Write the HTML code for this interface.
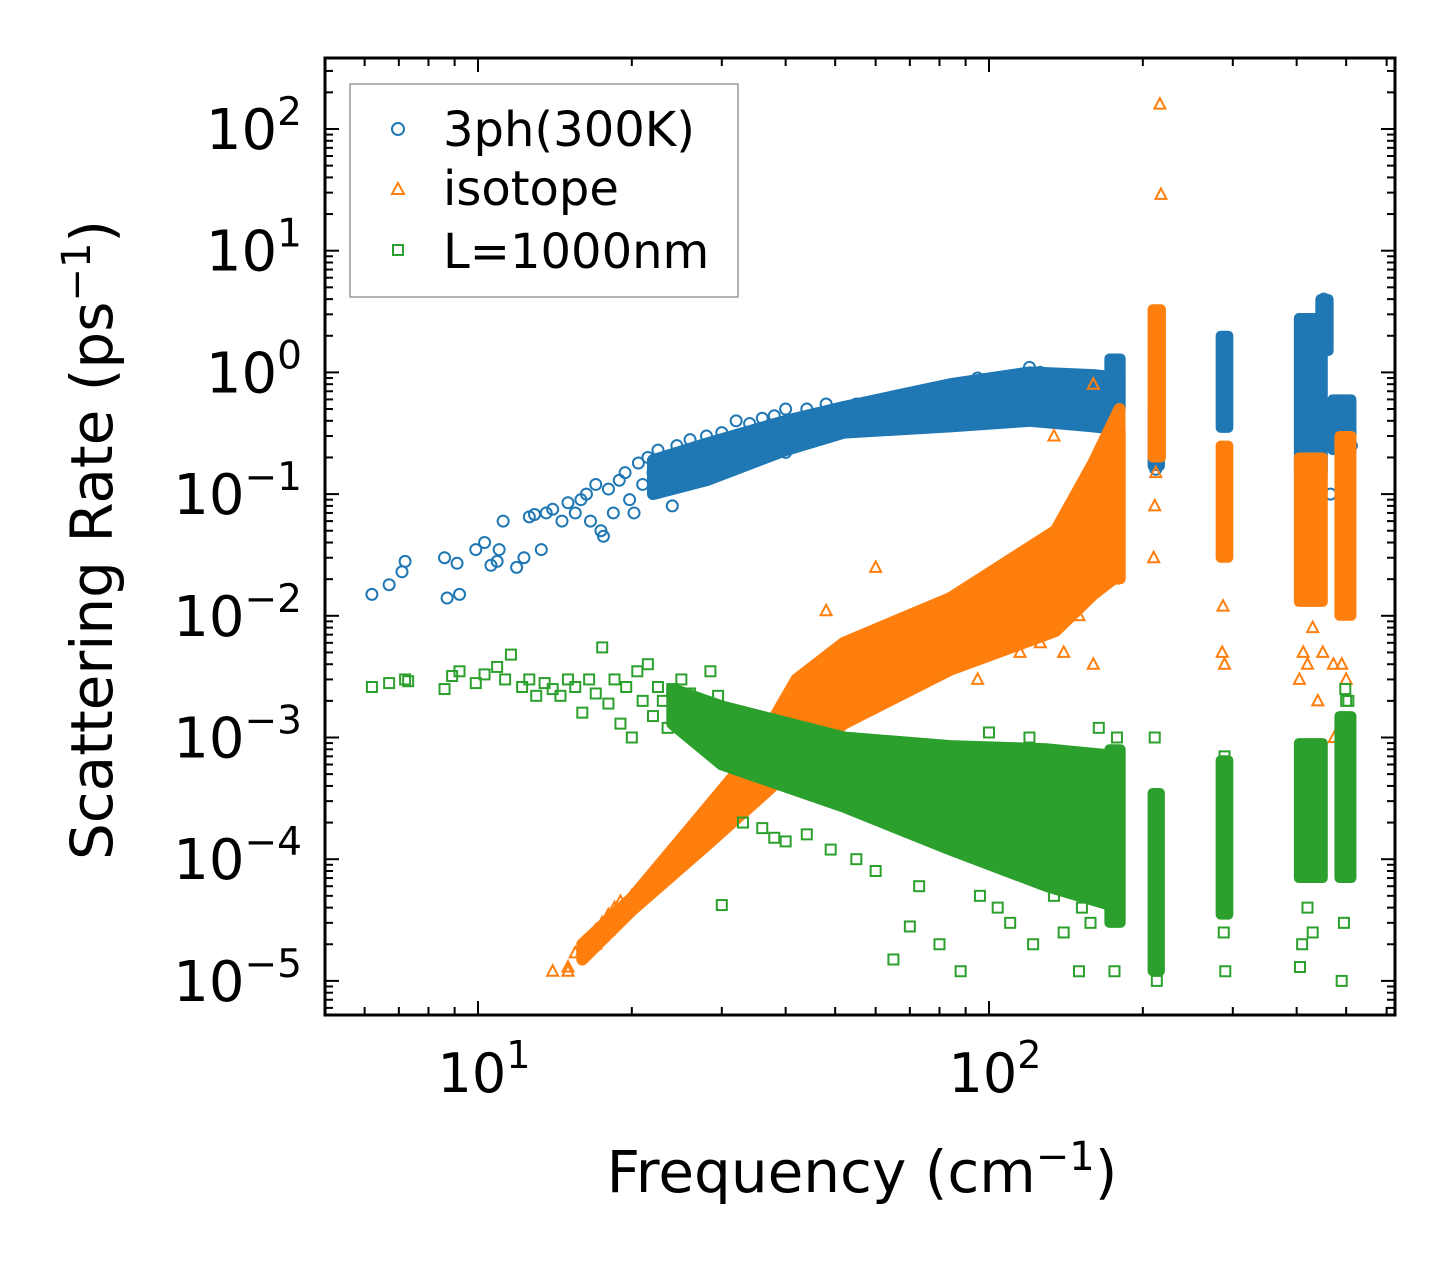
<!DOCTYPE html>
<html><head><meta charset="utf-8">
<style>
html,body{margin:0;padding:0;background:#fff;}
svg text{font-family:"DejaVu Sans","Liberation Sans",sans-serif;fill:#000;}
</style></head>
<body>
<svg id="chart" width="1455" height="1265" viewBox="0 0 1455 1265" xmlns="http://www.w3.org/2000/svg">
<rect width="1455" height="1265" fill="#fff"/>
<g id="marks"></g>
<g id="axes"></g>
<g id="legend">
  <rect x="350" y="84" width="388" height="213" fill="#fff" stroke="#999" stroke-width="1.5"/>
  <circle cx="398" cy="129" r="6" fill="none" stroke="#1f77b4" stroke-width="2"/>
  <text x="443" y="146" font-size="48">3ph(300K)</text>
  <path d="M398,183 L404,194 L392,194 Z" fill="none" stroke="#ff7f0e" stroke-width="2"/>
  <text x="443" y="205" font-size="48">isotope</text>
  <rect x="393" y="245" width="10" height="10" fill="none" stroke="#2ca02c" stroke-width="2"/>
  <text x="443" y="268" font-size="48">L=1000nm</text>
</g>
<text x="862" y="1192" font-size="58" text-anchor="middle">Frequency (cm<tspan dy="-22" font-size="40">−1</tspan><tspan dy="22">)</tspan></text>
<text transform="translate(112,540) rotate(-90)" font-size="58" text-anchor="middle">Scattering Rate (ps<tspan dy="-22" font-size="40">−1</tspan><tspan dy="22">)</tspan></text>
</svg>
<script>
// ---- data (frequency cm^-1, scattering rate ps^-1) ----
const xTickLabels=["1","2"];
const yTickExps=[2,1,0,-1,-2,-3,-4,-5];
// dense cores (overlapping markers): frequency, lower and upper rate of each cloud
const ph3BandFreq=[22,28,40,52,84,120,160,180];
const ph3BandLow=[0.1,0.13,0.23,0.32,0.36,0.4,0.36,0.34];
const ph3BandHigh=[0.19,0.26,0.4,0.52,0.8,1.0,0.95,0.9];
const isoBandFreq=[16,20,28,35,42,52,84,135,160,180];
const isoBandLow=[1.5e-5,3.8e-5,1.3e-4,3e-4,6e-4,1.3e-3,3.6e-3,7.5e-3,1.5e-2,2.2e-2];
const isoBandHigh=[2e-5,4.8e-5,2.6e-4,8e-4,3e-3,6e-3,1.4e-2,5e-2,0.18,0.5];
const bndBandFreq=[24,30,52,84,130,180];
const bndBandLow=[1.3e-3,6e-4,2.7e-4,1.2e-4,6e-5,4e-5];
const bndBandHigh=[2.5e-3,1.8e-3,1e-3,8.5e-4,8e-4,7e-4];
// narrow vertical clusters: [freqLeft, freqRight, low, high]
const ph3Clusters=[[172,181,0.5,1.3],[209,216,0.17,0.5],[284,294,0.35,2.0],[404,450,0.15,2.8],[445,462,1.5,4.0],[470,512,0.23,0.6]];
const isoClusters=[[172,181,0.02,0.35],[209,217,0.2,3.3],[284,294,0.03,0.25],[404,450,0.013,0.2],[485,512,0.01,0.3]];
const bndClusters=[[172,181,3e-5,8e-4],[209,216,1.2e-5,3.5e-4],[284,294,3.5e-5,6.5e-4],[404,450,7e-5,9e-4],[485,512,7e-5,1.5e-3]];
const ph3=[[6.2,0.015],[6.7,0.018],[7.1,0.023],[7.2,0.028],[8.6,0.03],[8.7,0.014],[9.1,0.027],[9.2,0.015],[9.9,0.035],[10.3,0.04],[10.6,0.026],[10.9,0.028],[11,0.035],[11.2,0.06],[11.9,0.025],[12.3,0.03],[12.6,0.065],[12.9,0.068],[13.3,0.035],[13.6,0.07],[14,0.075],[14.6,0.06],[15,0.085],[15.5,0.07],[15.9,0.09],[16.3,0.1],[16.6,0.06],[17,0.12],[17.4,0.05],[17.6,0.045],[18,0.11],[18.4,0.07],[18.9,0.13],[19.4,0.15],[19.8,0.09],[20.2,0.07],[20.6,0.18],[21,0.12],[21.5,0.2],[22,0.15],[22.5,0.23],[23,0.14],[23.5,0.2],[24,0.08],[24.5,0.25],[25,0.18],[26,0.28],[27,0.22],[28,0.3],[29,0.25],[30,0.32],[32,0.4],[34,0.38],[36,0.42],[38,0.44],[40,0.5],[40,0.22],[44,0.5],[48,0.55],[55,0.55],[63,0.55],[71,0.62],[79,0.7],[87,0.8],[95,0.9],[114,0.95],[120,1.1],[126,1.0],[176,1.1],
[212,0.16],[288,1.8],[452,4],[466,0.1],[512,0.25]];
const iso=[[14,1.2e-5],[15,1.3e-5],[15,1.2e-5],[15.5,1.7e-5],[16,1.8e-5],[16.5,2.2e-5],[17,2.6e-5],[17,2e-5],[17.5,3e-5],[18,3.5e-5],[18,2.6e-5],[18.5,4e-5],[19,4.5e-5],[19,3.5e-5],[20,5e-5],[21,6e-5],[22,7e-5],[23,9e-5],[24,1.1e-4],[25,1.3e-4],[26,1.5e-4],[27,2e-4],[48,1.1e-2],[60,2.5e-2],[134,0.3],[160,0.8],[126,6e-3],[115,5e-3],[95,3e-3],[150,1e-2],[170,3e-2],[175,2e-2],[160,4e-3],[140,5e-3],
[210,0.03],[211,0.08],[212,0.15],[216,160],[217,29],
[286,0.005],[287,0.012],[289,0.004],
[405,0.003],[412,0.005],[420,0.004],[430,0.008],[440,0.002],[450,0.005],[472,0.004],[474,0.001],[490,0.004],[500,0.003]];
const bnd=[[6.2,2.6e-3],[6.7,2.8e-3],[7.2,3e-3],[7.3,2.9e-3],[8.6,2.5e-3],[8.9,3.2e-3],[9.2,3.5e-3],[9.9,2.8e-3],[10.3,3.3e-3],[10.9,3.8e-3],[11.3,3e-3],[11.6,4.8e-3],[12.2,2.6e-3],[12.6,3e-3],[13,2.2e-3],[13.5,2.8e-3],[14,2.5e-3],[14.5,2.2e-3],[15,3e-3],[15.5,2.6e-3],[16,1.6e-3],[16.5,3e-3],[17,2.3e-3],[17.5,5.5e-3],[18,1.9e-3],[18.5,3e-3],[19,1.3e-3],[19.5,2.6e-3],[20,1e-3],[20.5,3.5e-3],[21,2e-3],[21.5,4e-3],[22,1.5e-3],[22.5,2.6e-3],[23,2e-3],[23.5,1.2e-3],[24,2.5e-3],[24.5,1.8e-3],[25,3e-3],[25.5,1.5e-3],[26,2.3e-3],[26.5,1.1e-3],[27,2e-3],[27.5,1.4e-3],[28,1.8e-3],[28.5,3.5e-3],[29,1.2e-3],[29.5,2.2e-3],[30,4.2e-5],[33,2e-4],[36,1.8e-4],[38,1.5e-4],[40,1.4e-4],[44,1.6e-4],[49,1.2e-4],[55,1e-4],[60,8e-5],[65,1.5e-5],[70,2.8e-5],[73,6e-5],[80,2e-5],[88,1.2e-5],[96,5e-5],[104,4e-5],[110,3e-5],[122,2e-5],[134,5e-5],[140,2.5e-5],[150,1.2e-5],[152,4e-5],[158,3e-5],[168,5e-5],[176,1.2e-5],[178,1e-3],[164,1.2e-3],[120,1e-3],[100,1.1e-3],
[212,1.3e-5],[213,1e-5],[211,2e-5],[211,1e-3],[289,7e-4],[290,1.2e-5],[288,2.5e-5],
[406,1.3e-5],[410,2e-5],[430,2.5e-5],[420,4e-5],[490,1e-5],[495,3e-5],[500,2e-3],[505,2e-3],[498,2.5e-3]];

// ---- axes ----
const X0=325,X1=1395,Y0=58,Y1=1015;
const xDec=511, xRef=478;
const yDec=121.7, yRef=129;
function sx(f){return xRef+(Math.log10(f)-1)*xDec;}
function sy(r){return yRef-(Math.log10(r)-2)*yDec;}
const NS="http://www.w3.org/2000/svg";
function mk(tag,attrs,parent){const e=document.createElementNS(NS,tag);for(const k in attrs)e.setAttribute(k,attrs[k]);parent.appendChild(e);return e;}
const marks=document.getElementById('marks');
const axes=document.getElementById('axes');

const clip=mk('clipPath',{id:'pc'},marks);mk('rect',{x:X0,y:Y0,width:X1-X0,height:Y1-Y0},clip);
function bandPath(fr,lo,hi){let d='';fr.forEach((f,i)=>{d+=(i?'L':'M')+sx(f)+','+sy(hi[i]);});for(let i=fr.length-1;i>=0;i--)d+='L'+sx(fr[i])+','+sy(lo[i]);return d+'Z';}
function clusterPath(c){return `M${sx(c[0])},${sy(c[3])}L${sx(c[1])},${sy(c[3])}L${sx(c[1])},${sy(c[2])}L${sx(c[0])},${sy(c[2])}Z`;}

function drawSeries(name,color,bf,bl,bh,clusters,pts,shape){
  const g=mk('g',{'clip-path':'url(#pc)'},marks);
  
  
  const b=mk('path',{d:bandPath(bf,bl,bh),fill:color,stroke:color,'stroke-width':12,'stroke-linejoin':'round'},g);
  
  
  clusters.forEach(c=>{const p=mk('path',{d:clusterPath(c),fill:color,stroke:color,'stroke-width':10,'stroke-linejoin':'round'},g);
    
    });
  pts.forEach(p=>{const x=sx(p[0]),y=sy(p[1]);let e;
    if(shape==='c')e=mk('circle',{cx:x,cy:y,r:5.5,fill:'none',stroke:color,'stroke-width':2},g);
    else if(shape==='t')e=mk('path',{d:`M${x},${y-6} L${x+5.5},${y+4.5} L${x-5.5},${y+4.5} Z`,fill:'none',stroke:color,'stroke-width':2},g);
    else e=mk('rect',{x:x-5,y:y-5,width:10,height:10,fill:'none',stroke:color,'stroke-width':2},g);
    
    });
}
drawSeries('3ph','#1f77b4',ph3BandFreq,ph3BandLow,ph3BandHigh,ph3Clusters,ph3,'c');
drawSeries('isotope','#ff7f0e',isoBandFreq,isoBandLow,isoBandHigh,isoClusters,iso,'t');
drawSeries('boundary','#2ca02c',bndBandFreq,bndBandLow,bndBandHigh,bndClusters,bnd,'s');

const fr=mk('rect',{x:X0,y:Y0,width:X1-X0,height:Y1-Y0,fill:'none',stroke:'#000','stroke-width':3},axes);


for(let d=0;d<=2;d++){for(let m=1;m<10;m++){const f=m*Math.pow(10,d);const x=sx(f);if(x<X0||x>X1)continue;const L=m===1?14:8;
mk('line',{x1:x,y1:Y1,x2:x,y2:Y1-L,stroke:'#000','stroke-width':2},axes);
mk('line',{x1:x,y1:Y0,x2:x,y2:Y0+L,stroke:'#000','stroke-width':2},axes);}}
xTickLabels.forEach(e=>{const x=sx(Math.pow(10,+e));const t=mk('text',{x:x+6,y:1092,'font-size':54,'text-anchor':'middle'},axes);


t.innerHTML=`10<tspan dy="-24" font-size="38">${e}</tspan>`;});
for(let d=-6;d<=2;d++){for(let m=1;m<10;m++){const r=m*Math.pow(10,d);const y=sy(r);if(y<Y0||y>Y1)continue;const L=m===1?14:8;
mk('line',{x1:X0,y1:y,x2:X0+L,y2:y,stroke:'#000','stroke-width':2},axes);
mk('line',{x1:X1,y1:y,x2:X1-L,y2:y,stroke:'#000','stroke-width':2},axes);}}
yTickExps.forEach(e=>{const y=sy(Math.pow(10,e));const t=mk('text',{x:302,y:y+20,'font-size':56,'text-anchor':'end'},axes);


const lab=e<0?'−'+(-e):''+e;
t.innerHTML=`10<tspan dy="-24" font-size="39">${lab}</tspan>`;});
</script>
</body></html>
